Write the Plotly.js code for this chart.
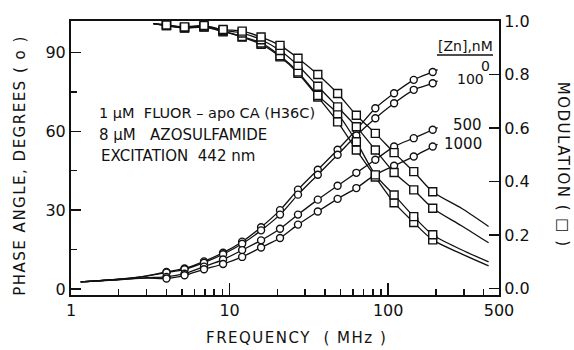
<!DOCTYPE html>
<html><head><meta charset="utf-8">
<script src="https://cdn.plot.ly/plotly-3.0.1.min.js"></script>
<style>html,body{margin:0;padding:0;background:#fff}#chart{width:574px;height:350px}</style>
</head><body><div id="chart"></div>
<script>
// Modulation frequencies (MHz)
const freq = [4, 5.2, 6.9, 9.1, 12, 15.8, 20.8, 27, 36, 48, 63, 83, 109, 145, 191];
const zincLabels = ['0', '100', '500', '1000'];

// Phase angle (degrees), open circles
const phase0    = [6.5, 7.8, 10.5, 13.8, 18.0, 23.5, 30.0, 37.8, 45.4, 53.0, 60.6, 68.8, 74.5, 79.6, 82.6];
const phase100  = [6.2, 7.5, 10.0, 13.2, 17.2, 22.3, 28.3, 35.9, 43.5, 51.1, 58.4, 65.0, 70.7, 75.8, 78.3];
const phase500  = [4.6, 5.8, 8.5, 11.2, 14.8, 18.5, 22.9, 28.3, 34.0, 39.3, 44.2, 49.2, 54.2, 57.4, 60.6];
const phase1000 = [4.0, 5.2, 7.5, 9.5, 12.2, 15.8, 19.4, 24.5, 29.5, 34.3, 38.4, 43.5, 46.9, 50.4, 54.2];

// Modulation, open squares
const mod0    = [0.983, 0.974, 0.977, 0.960, 0.940, 0.913, 0.866, 0.805, 0.716, 0.623, 0.518, 0.417, 0.321, 0.247, 0.182];
const mod100  = [0.983, 0.975, 0.978, 0.962, 0.942, 0.918, 0.870, 0.810, 0.722, 0.654, 0.549, 0.425, 0.350, 0.269, 0.201];
const mod500  = [0.985, 0.976, 0.981, 0.965, 0.955, 0.930, 0.890, 0.834, 0.756, 0.679, 0.605, 0.518, 0.434, 0.369, 0.300];
const mod1000 = [0.985, 0.978, 0.983, 0.968, 0.962, 0.940, 0.909, 0.861, 0.800, 0.729, 0.648, 0.580, 0.508, 0.437, 0.362];

// Fitted curves, extra points
const phaseCurveLowF = [1.15, 2, 3];
const phaseCurveLow = { '0': [2.7, 3.7, 5.0], '100': [2.7, 3.7, 4.9], '500': [2.7, 3.6, 4.3], '1000': [2.7, 3.5, 4.1] };
const phaseCurveHighF = [205];
const phaseCurveHigh = { '0': [83.5], '100': [79.2], '500': [61.4], '1000': [55.0] };
const modCurveLowF = [3.3];
const modCurveLow = { '0': [0.99], '100': [0.99], '500': [0.99], '1000': [0.99] };
const modCurveHighF = [290, 430];
const modCurveHigh = { '0': [0.13, 0.085], '100': [0.145, 0.100], '500': [0.235, 0.171], '1000': [0.30, 0.232] };

const phaseSeries = { '0': phase0, '100': phase100, '500': phase500, '1000': phase1000 };
const modSeries = { '0': mod0, '100': mod100, '500': mod500, '1000': mod1000 };

const W = 574, H = 350, L = 71, R = 75, T = 21, B = 54.5;
const pw = W - L - R, ph = H - T - B;
const px = x => (x - L) / pw;
const py = y => (H - B - y) / ph;

const traces = [];
zincLabels.forEach(z => {
  traces.push({
    x: phaseCurveLowF.concat(freq, phaseCurveHighF),
    y: phaseCurveLow[z].concat(phaseSeries[z], phaseCurveHigh[z]),
    type: 'scatter', mode: 'lines', line: { color: '#111', width: 1.3, shape: 'spline', smoothing: 0.8 },
    hoverinfo: 'skip', showlegend: false
  });
  traces.push({
    x: modCurveLowF.concat(freq, modCurveHighF),
    y: modCurveLow[z].concat(modSeries[z], modCurveHigh[z]),
    yaxis: 'y2',
    type: 'scatter', mode: 'lines', line: { color: '#111', width: 1.3, shape: 'spline', smoothing: 0.8 },
    hoverinfo: 'skip', showlegend: false
  });
});
zincLabels.forEach(z => {
  traces.push({
    x: freq, y: phaseSeries[z], type: 'scatter', mode: 'markers', name: z + ' nM phase',
    marker: { symbol: 'circle', size: 7, color: '#fff', line: { color: '#111', width: 1.4 } }, showlegend: false
  });
  traces.push({
    x: freq, y: modSeries[z], yaxis: 'y2', type: 'scatter', mode: 'markers', name: z + ' nM modulation',
    marker: { symbol: 'square', size: 8, color: '#fff', line: { color: '#111', width: 1.4 } }, showlegend: false
  });
});

const font = { family: 'DejaVu Sans, sans-serif', size: 15, color: '#111' };
const ls = s => '<span style="letter-spacing:1.5px">' + s + '</span>';

const annotations = [
  { text: ls('PHASE ANGLE, DEGREES ( o )'), x: px(20), y: py(166), textangle: -90 },
  { text: ls('MODULATION ( □ )'), x: px(563), y: py(165), textangle: 90 },
  { text: ls('FREQUENCY  ( MHz )'), x: px(296), y: py(339) },
  { text: '1 μM  FLUOR – apo CA (H36C)', x: px(97), y: py(113), xanchor: 'left', size: 14.5 },
  { text: '8 μM   AZOSULFAMIDE', x: px(97), y: py(135), xanchor: 'left', size: 15 },
  { text: 'EXCITATION  442 nm', x: px(99), y: py(156), xanchor: 'left', size: 15 },
  { text: '[Zn],nM', x: px(465), y: py(46), size: 14 },
  { text: zincLabels[0], x: px(485), y: py(66), size: 14 },
  { text: zincLabels[1], x: px(470), y: py(79), size: 14 },
  { text: zincLabels[2], x: px(467), y: py(125), size: 15 },
  { text: zincLabels[3], x: px(463), y: py(144), size: 15 }
].map(a => ({
  text: a.text, x: a.x, y: a.y, xref: 'paper', yref: 'paper', showarrow: false,
  xanchor: a.xanchor || 'center', yanchor: 'middle', textangle: a.textangle || 0,
  font: Object.assign({}, font, a.size ? { size: a.size } : {})
}));

const layout = {
  width: W, height: H, margin: { l: L, r: R, t: T, b: B },
  paper_bgcolor: '#fff', plot_bgcolor: '#fff', showlegend: false,
  font: font,
  xaxis: {
    type: 'log', range: [0, Math.log10(500)],
    tickmode: 'array', tickvals: [1, 10, 100, 500], ticktext: ['1', '10', '100', '500'],
    ticks: 'inside', ticklen: 12, tickwidth: 1.5, tickcolor: '#111',
    minor: { tickmode: 'array', tickvals: [2, 3, 4, 5, 6, 7, 8, 9, 20, 30, 40, 50, 60, 70, 80, 90, 200, 300, 400], ticks: 'inside', ticklen: 6, tickwidth: 1.5, tickcolor: '#111', showgrid: false },
    showline: true, linewidth: 2, linecolor: '#111', mirror: true,
    showgrid: false, zeroline: false, tickfont: { family: font.family, size: 16, color: '#111' }
  },
  yaxis: {
    range: [-2.3, 102], tickmode: 'array', tickvals: [0, 30, 60, 90],
    ticks: 'inside', ticklen: 10, tickwidth: 1.5, tickcolor: '#111',
    minor: { tickmode: 'array', tickvals: [15, 45, 75], ticks: 'inside', ticklen: 6, tickwidth: 1.5, tickcolor: '#111', showgrid: false },
    showline: true, linewidth: 2, linecolor: '#111',
    showgrid: false, zeroline: false, tickfont: { family: font.family, size: 16, color: '#111' }
  },
  yaxis2: {
    overlaying: 'y', side: 'right', range: [-0.024, 1.0],
    tickmode: 'array', tickvals: [0, 0.2, 0.4, 0.6, 0.8, 1.0], ticktext: ['0.0', '0.2', '0.4', '0.6', '0.8', '1.0'],
    ticks: 'inside', ticklen: 10, tickwidth: 1.5, tickcolor: '#111',
    showline: true, linewidth: 2, linecolor: '#111',
    showgrid: false, zeroline: false, tickfont: { family: font.family, size: 16, color: '#111' }
  },
  shapes: [
    { type: 'line', xref: 'paper', yref: 'paper', x0: px(437), x1: px(493), y0: py(55), y1: py(55), line: { color: '#111', width: 1.5 } }
  ],
  annotations: annotations
};

Plotly.newPlot('chart', traces, layout, { staticPlot: true, displayModeBar: false });
</script>
</body></html>
